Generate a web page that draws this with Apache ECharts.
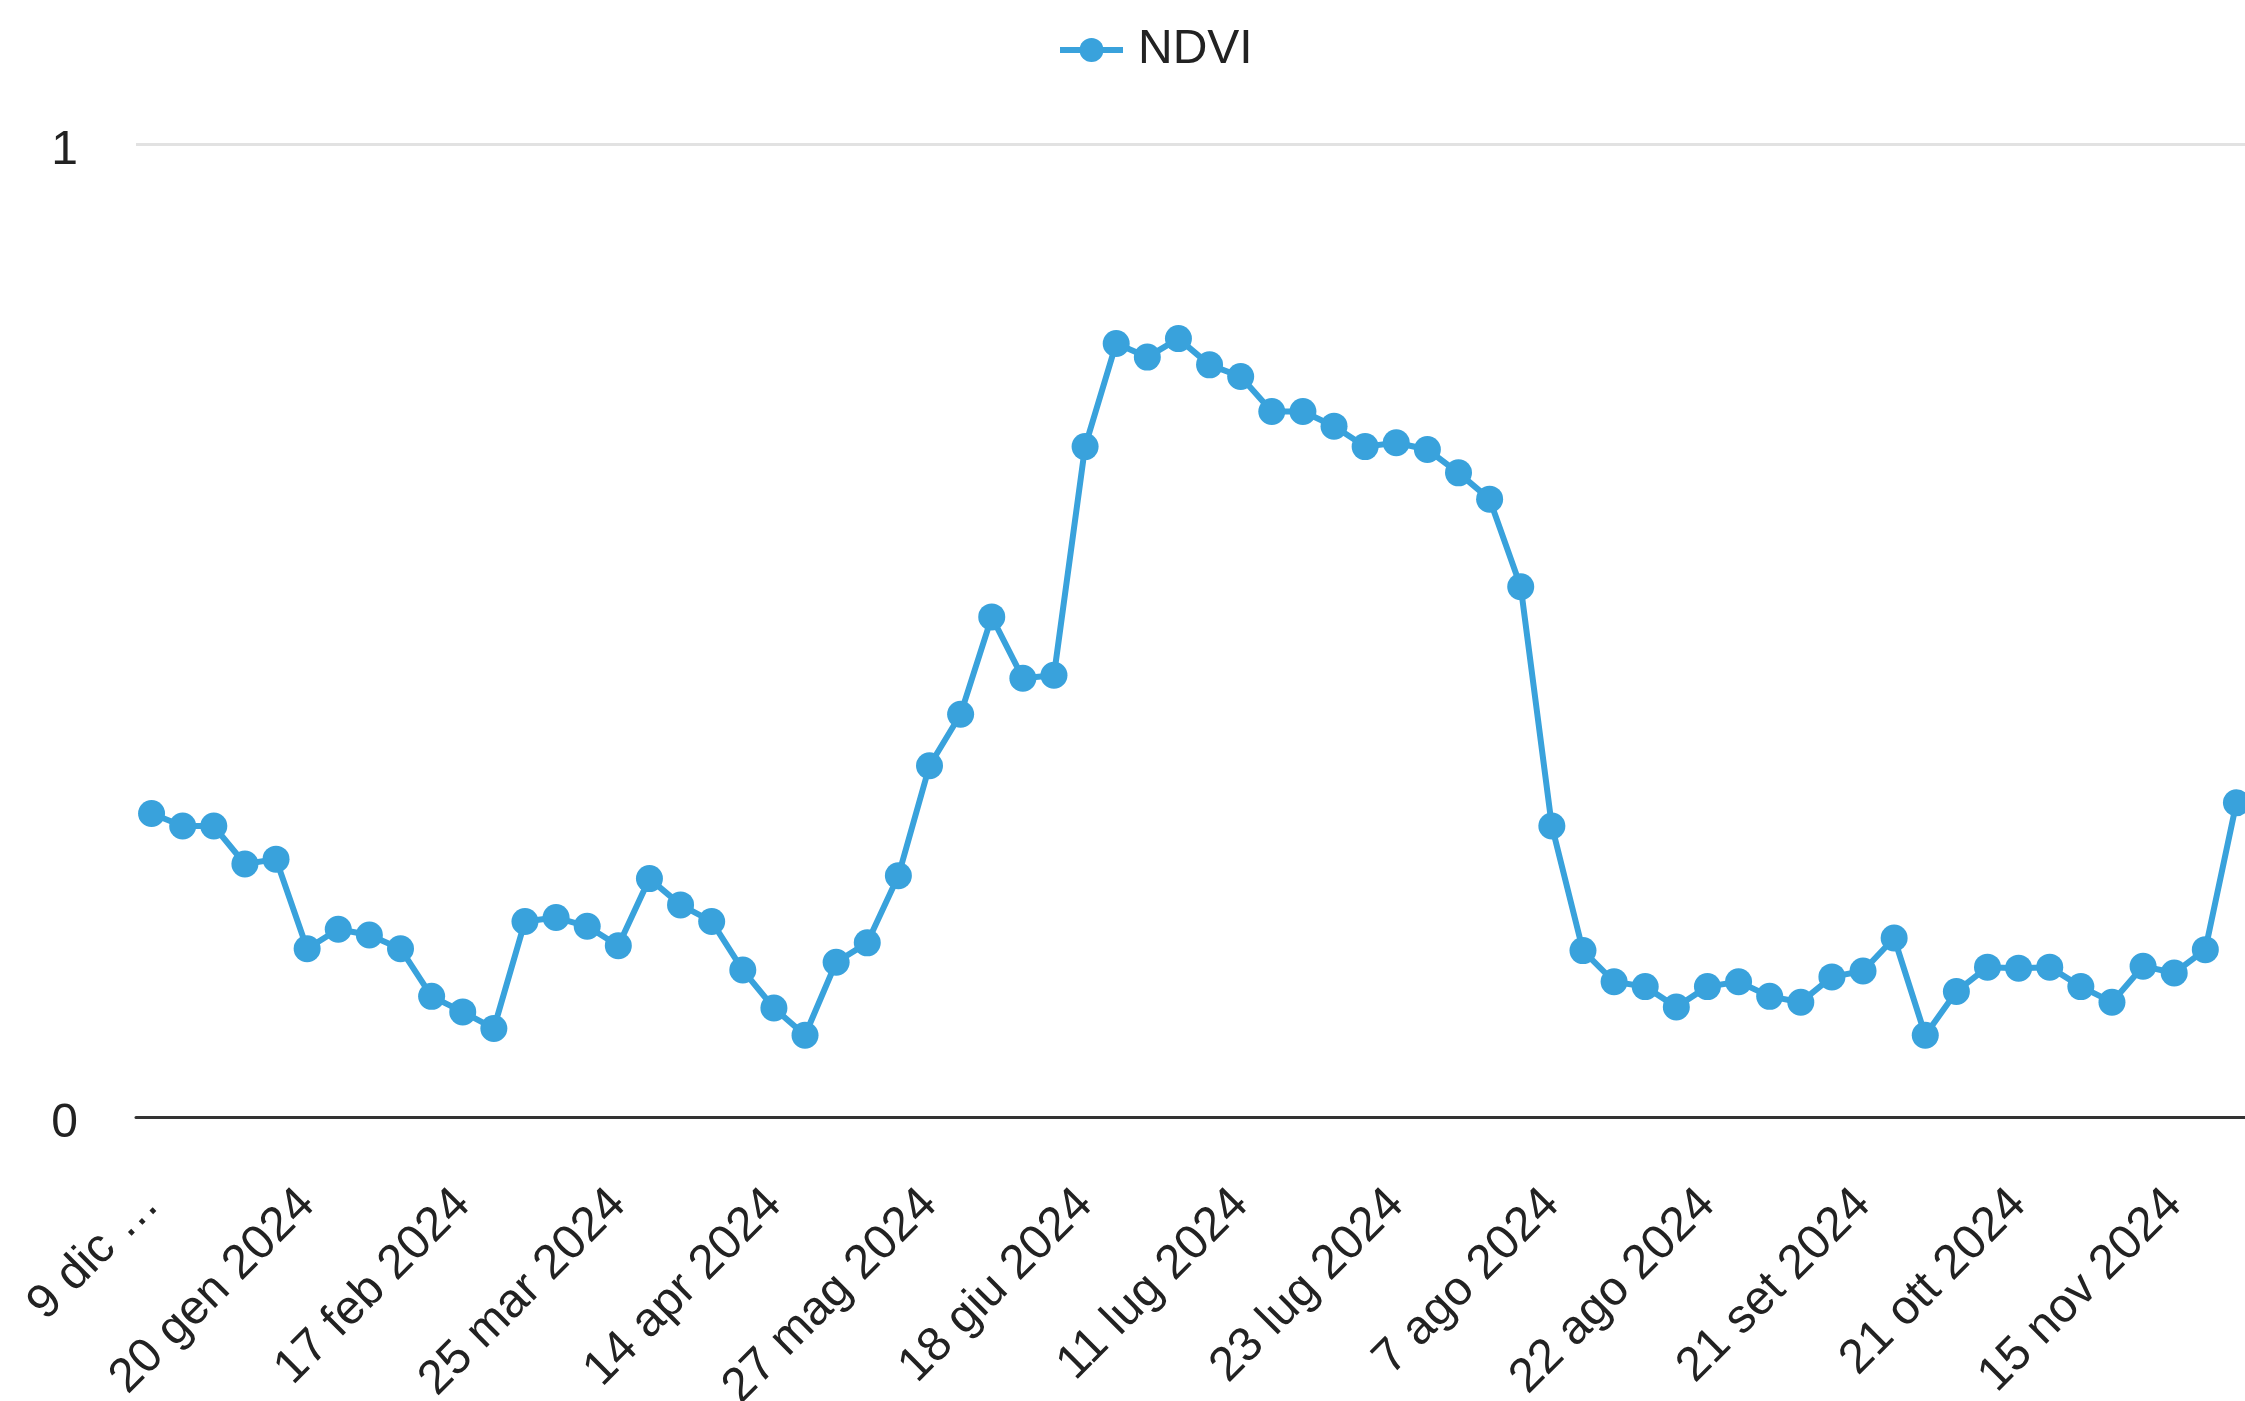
<!DOCTYPE html>
<html>
<head>
<meta charset="utf-8">
<script src="https://cdn.jsdelivr.net/npm/echarts@6/dist/echarts.min.js"></script>
<style>
html,body{margin:0;padding:0;background:#fff;}
#chart{width:2245px;height:1401px;}
</style>
</head>
<body>
<div id="chart"></div>
<script>
const dates = [
  '9 dic 2023','14 dic 2023','19 dic 2023','29 dic 2023','8 gen 2024',
  '20 gen 2024','25 gen 2024','2 feb 2024','7 feb 2024','12 feb 2024',
  '17 feb 2024','24 feb 2024','3 mar 2024','10 mar 2024','18 mar 2024',
  '25 mar 2024','30 mar 2024','2 apr 2024','7 apr 2024','9 apr 2024',
  '14 apr 2024','22 apr 2024','2 mag 2024','12 mag 2024','19 mag 2024',
  '27 mag 2024','1 giu 2024','6 giu 2024','11 giu 2024','13 giu 2024',
  '18 giu 2024','23 giu 2024','28 giu 2024','1 lug 2024','6 lug 2024',
  '11 lug 2024','13 lug 2024','16 lug 2024','18 lug 2024','21 lug 2024',
  '23 lug 2024','26 lug 2024','28 lug 2024','31 lug 2024','2 ago 2024',
  '7 ago 2024','10 ago 2024','12 ago 2024','15 ago 2024','17 ago 2024',
  '22 ago 2024','27 ago 2024','1 set 2024','6 set 2024','11 set 2024',
  '21 set 2024','26 set 2024','1 ott 2024','6 ott 2024','16 ott 2024',
  '21 ott 2024','26 ott 2024','31 ott 2024','5 nov 2024','10 nov 2024',
  '15 nov 2024','20 nov 2024','25 nov 2024'
];

const ndvi = [
  0.312, 0.299, 0.299, 0.260, 0.265,
  0.173, 0.193, 0.187, 0.173, 0.124,
  0.108, 0.091, 0.201, 0.205, 0.196,
  0.176, 0.245, 0.218, 0.201, 0.151,
  0.112, 0.084, 0.159, 0.179, 0.248,
  0.361, 0.414, 0.514, 0.451, 0.454,
  0.689, 0.795, 0.781, 0.800, 0.773,
  0.761, 0.725, 0.725, 0.710, 0.689,
  0.693, 0.686, 0.662, 0.635, 0.545,
  0.299, 0.171, 0.139, 0.134, 0.113,
  0.134, 0.139, 0.124, 0.118, 0.144,
  0.150, 0.184, 0.084, 0.129, 0.154,
  0.153, 0.154, 0.134, 0.118, 0.155,
  0.148, 0.172, 0.323
];

const yTicks = { min: 0, max: 1, interval: 1 };
const seriesName = 'NDVI';

const chart = echarts.init(document.getElementById('chart'), null, { renderer: 'canvas' });
const FONT = '"Liberation Sans", Arial, sans-serif';
const BLUE = '#39a2dc';

chart.setOption({
  animation: false,
  backgroundColor: '#ffffff',
  textStyle: { fontFamily: FONT },
  legend: {
    data: [seriesName],
    left: 1052,
    top: 21,
    itemWidth: 63,
    itemHeight: 30,
    itemGap: 10,
    lineStyle: { width: 6 },
    textStyle: { fontSize: 48, color: '#222222', fontFamily: FONT, padding: [0, 0, 0, 10] }
  },
  grid: {
    left: 136,
    top: 144,
    width: 2116,
    height: 973,
    containLabel: false,
    outerBoundsMode: 'none'
  },
  xAxis: {
    type: 'category',
    data: dates,
    boundaryGap: true,
    axisLine: { show: true, lineStyle: { color: '#333333', width: 3 } },
    axisTick: { show: false },
    splitLine: { show: false },
    axisLabel: {
      interval: 4,
      rotate: 45,
      margin: 80,
      fontSize: 48,
      color: '#222222',
      fontFamily: FONT,
      formatter: function (v, i) { return i === 0 ? '9 dic …' : v; }
    }
  },
  yAxis: {
    type: 'value',
    min: yTicks.min,
    max: yTicks.max,
    interval: yTicks.interval,
    axisLine: { show: false },
    axisTick: { show: false },
    splitLine: { show: true, lineStyle: { color: '#e2e2e2', width: 3 } },
    axisLabel: {
      margin: 58, fontSize: 48, color: '#222222', fontFamily: FONT,
      verticalAlign: 'top', lineHeight: 48, padding: [-17, 0, 0, 0]
    }
  },
  series: [{
    name: seriesName,
    type: 'line',
    data: ndvi,
    symbol: 'circle',
    symbolSize: 27,
    showAllSymbol: true,
    lineStyle: { color: BLUE, width: 6 },
    itemStyle: { color: BLUE, borderWidth: 0 }
  }]
});
</script>
</body>
</html>
